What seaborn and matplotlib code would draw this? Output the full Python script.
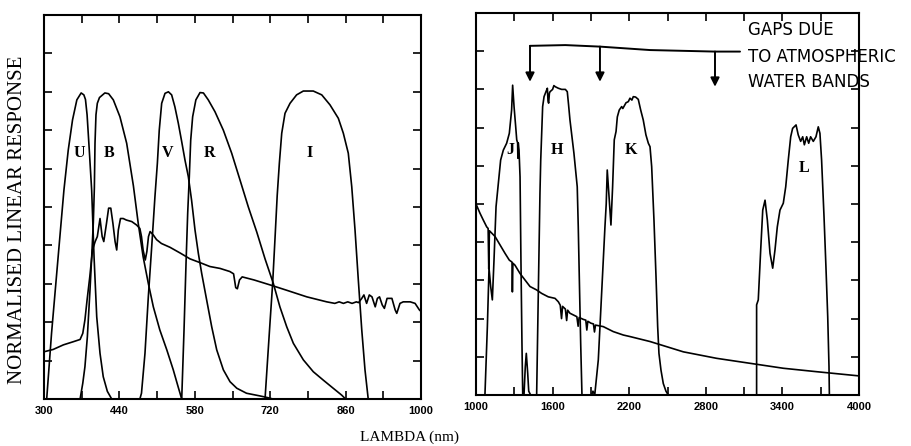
import numpy as np
import pandas as pd
import matplotlib
matplotlib.use("Agg")
import matplotlib.pyplot as plt
import seaborn as sns

# ---------------- data ----------------
# Optical panel: filter responses U, B, V, R, I and a stellar spectrum
u_wl = [305, 314, 322, 330, 337, 345, 353, 361, 369, 374, 377, 380, 384, 388.5, 392.9, 397.9, 404, 410, 417.6, 425.7]
u_resp = [0, 0.171, 0.301, 0.431, 0.544, 0.648, 0.727, 0.779, 0.797, 0.792, 0.78, 0.74, 0.65, 0.544, 0.371, 0.214, 0.119, 0.058, 0.02, 0]

b_wl = [367, 372, 376, 380.5, 385.4, 388.6, 391.6, 393.5, 394.7, 396.5, 399, 403, 413, 420, 428.7, 441, 453.5, 466, 475, 484, 493.7, 503, 515, 528, 540, 549, 555.7]
b_resp = [0, 0.041, 0.084, 0.162, 0.284, 0.371, 0.46, 0.55, 0.666, 0.74, 0.77, 0.785, 0.797, 0.795, 0.779, 0.735, 0.666, 0.555, 0.457, 0.371, 0.301, 0.24, 0.18, 0.128, 0.076, 0.032, 0]

v_wl = [478, 481, 487.5, 493.7, 500, 506, 510.5, 514, 518.5, 524.7, 531, 537, 543, 549.4, 555.7, 561.8, 568, 574, 580.4, 586.6, 592.8, 602, 611.4, 620.7, 633, 645.4, 658, 676, 701, 714, 725]
v_resp = [0, 0.015, 0.119, 0.266, 0.397, 0.527, 0.614, 0.70, 0.77, 0.796, 0.8, 0.792, 0.761, 0.718, 0.67, 0.622, 0.579, 0.518, 0.44, 0.379, 0.327, 0.258, 0.188, 0.128, 0.076, 0.045, 0.028, 0.015, 0.008, 0.004, 0]

r_wl = [555.7, 560, 563.7, 566.8, 569.8, 572.4, 576, 582, 589.7, 596, 605, 617.5, 633, 648.5, 664, 679.4, 695, 710.4, 725.8, 738, 750.7, 763, 781.5, 800, 818.7, 837, 852.8, 860]
r_resp = [0, 0.18, 0.353, 0.484, 0.579, 0.674, 0.735, 0.779, 0.798, 0.797, 0.779, 0.748, 0.70, 0.64, 0.57, 0.50, 0.435, 0.365, 0.301, 0.24, 0.188, 0.145, 0.102, 0.071, 0.049, 0.028, 0.01, 0]

i_wl = [710.4, 714.7, 719.7, 724.5, 729, 733, 737, 741.4, 747.5, 756.8, 769, 781.5, 800, 815.7, 831, 846.5, 855.8, 865, 871.4, 877.5, 883.6, 890, 896, 902]
i_resp = [0, 0.093, 0.2, 0.3, 0.42, 0.53, 0.614, 0.692, 0.744, 0.77, 0.792, 0.802, 0.802, 0.792, 0.766, 0.731, 0.692, 0.64, 0.553, 0.44, 0.31, 0.18, 0.076, 0]

opt_spec_wl = [300, 317, 336, 354, 367, 372, 376, 380, 385, 390, 395, 399, 404, 408, 411, 416, 420, 424, 428, 432, 435, 438, 442, 447, 453, 463, 472, 478, 481, 484, 488, 491, 494, 497, 503, 509, 518, 534, 553, 571, 590, 608, 627, 645, 652, 656, 659, 663, 668, 690, 720, 751, 788, 825, 840, 848, 856, 864, 872, 880, 884, 890, 894, 899, 904, 909, 915, 919, 923, 928, 932, 937, 946, 952, 955, 961, 967, 980, 989, 997, 1000]
opt_spec_resp = [0.123, 0.129, 0.141, 0.149, 0.155, 0.171, 0.206, 0.258, 0.318, 0.388, 0.41, 0.423, 0.47, 0.423, 0.41, 0.457, 0.497, 0.497, 0.457, 0.41, 0.388, 0.44, 0.47, 0.47, 0.466, 0.462, 0.453, 0.444, 0.423, 0.388, 0.362, 0.384, 0.423, 0.436, 0.427, 0.415, 0.405, 0.395, 0.38, 0.365, 0.355, 0.345, 0.34, 0.332, 0.326, 0.29, 0.287, 0.31, 0.318, 0.31, 0.297, 0.283, 0.266, 0.253, 0.249, 0.253, 0.249, 0.253, 0.249, 0.253, 0.251, 0.262, 0.271, 0.249, 0.271, 0.266, 0.24, 0.262, 0.266, 0.245, 0.236, 0.262, 0.262, 0.232, 0.223, 0.249, 0.253, 0.253, 0.249, 0.232, 0.228]

# Infrared panel: J, H, K, L and spectrum
j_wl = [1070, 1089, 1102, 1115, 1128, 1141, 1157, 1175, 1193, 1214, 1240, 1261, 1279, 1287, 1298, 1311, 1319, 1326, 1328, 1331, 1337, 1345, 1352, 1360, 1366, 1376, 1386, 1394, 1405, 1413, 1428]
j_resp = [0, 0.179, 0.332, 0.284, 0.249, 0.353, 0.493, 0.554, 0.615, 0.641, 0.659, 0.685, 0.746, 0.811, 0.755, 0.702, 0.668, 0.66, 0.62, 0.66, 0.641, 0.571, 0.353, 0.135, 0, 0, 0.074, 0.109, 0.057, 0.01, 0]

h_wl = [1475, 1488, 1501, 1507, 1522, 1533, 1548, 1559, 1564, 1569, 1575, 1580, 1600, 1610, 1621, 1645, 1671, 1700, 1715, 1725, 1736, 1767, 1793, 1801, 1809, 1820, 1830]
h_resp = [0, 0.266, 0.528, 0.615, 0.755, 0.781, 0.794, 0.803, 0.77, 0.764, 0.79, 0.794, 0.8, 0.81, 0.807, 0.803, 0.8, 0.8, 0.794, 0.76, 0.72, 0.633, 0.545, 0.44, 0.31, 0.135, 0]

k_wl = [1905, 1916, 1930, 1958, 1984, 2010, 2020, 2028, 2044, 2057, 2070, 2083, 2097, 2107, 2122, 2141, 2150, 2175, 2193, 2206, 2221, 2232, 2250, 2271, 2290, 2310, 2331, 2350, 2363, 2376, 2394, 2410, 2423, 2433, 2449, 2467, 2488, 2506]
k_resp = [0, 0.01, 0, 0.092, 0.266, 0.44, 0.5, 0.589, 0.51, 0.445, 0.545, 0.668, 0.69, 0.728, 0.746, 0.755, 0.75, 0.765, 0.768, 0.777, 0.772, 0.781, 0.78, 0.774, 0.746, 0.72, 0.681, 0.659, 0.65, 0.598, 0.458, 0.31, 0.179, 0.109, 0.065, 0.03, 0.01, 0]

l_wl = [3198, 3198, 3211, 3230, 3246, 3264, 3282, 3303, 3324, 3342, 3360, 3381, 3407, 3426, 3446, 3465, 3480, 3507, 3524, 3543, 3559, 3572, 3590, 3606, 3621, 3642, 3663, 3681, 3694, 3707, 3726, 3741, 3755, 3765, 3768]
l_resp = [0, 0.236, 0.249, 0.38, 0.484, 0.51, 0.458, 0.371, 0.332, 0.38, 0.44, 0.484, 0.502, 0.545, 0.615, 0.676, 0.698, 0.707, 0.681, 0.664, 0.676, 0.655, 0.676, 0.659, 0.676, 0.664, 0.676, 0.702, 0.685, 0.615, 0.467, 0.336, 0.205, 0.074, 0]

ir_spec_wl = [1000, 1031, 1057, 1084, 1095, 1100, 1105, 1149, 1188, 1227, 1261, 1282, 1285, 1289, 1305, 1345, 1384, 1423, 1475, 1514, 1566, 1619, 1645, 1660, 1670, 1678, 1700, 1710, 1718, 1736, 1760, 1790, 1800, 1808, 1840, 1860, 1868, 1876, 1900, 1920, 1928, 1936, 1997, 2075, 2154, 2206, 2363, 2624, 2885, 3146, 3407, 3668, 4000]
ir_spec_resp = [0.5, 0.476, 0.458, 0.44, 0.436, 0.33, 0.43, 0.415, 0.393, 0.371, 0.353, 0.348, 0.27, 0.345, 0.34, 0.318, 0.301, 0.284, 0.275, 0.266, 0.257, 0.253, 0.244, 0.235, 0.2, 0.232, 0.225, 0.195, 0.222, 0.214, 0.21, 0.205, 0.18, 0.203, 0.198, 0.196, 0.17, 0.193, 0.188, 0.186, 0.165, 0.183, 0.179, 0.166, 0.157, 0.153, 0.14, 0.113, 0.096, 0.083, 0.07, 0.061, 0.05]

opt_labels = ["U", "B", "V", "R", "I"]
ir_labels = ["J", "H", "K", "L"]

# ---------------- build tables ----------------
def frame(name, wl, resp):
    return pd.DataFrame({"wl": wl, "resp": resp, "band": name})

opt_df = pd.concat([frame("U", u_wl, u_resp), frame("B", b_wl, b_resp),
                    frame("V", v_wl, v_resp), frame("R", r_wl, r_resp),
                    frame("I", i_wl, i_resp),
                    frame("spec", opt_spec_wl, opt_spec_resp)], ignore_index=True)
ir_df = pd.concat([frame("J", j_wl, j_resp), frame("H", h_wl, h_resp),
                   frame("K", k_wl, k_resp), frame("L", l_wl, l_resp),
                   frame("spec", ir_spec_wl, ir_spec_resp)], ignore_index=True)

# ---------------- style ----------------
sns.set_style("ticks")
plt.rcParams["font.family"] = ["Liberation Serif", "DejaVu Serif"]
plt.rcParams["text.color"] = "black"
plt.rcParams["xtick.color"] = "black"
plt.rcParams["ytick.color"] = "black"
plt.rcParams["xtick.labelcolor"] = "black"

fig = plt.figure(figsize=(9.11, 4.46), dpi=100)
ax1 = fig.add_axes([44 / 911, 47 / 446, 377 / 911, 384 / 446])
ax2 = fig.add_axes([476 / 911, 51 / 446, 383 / 911, 382 / 446])

for ax, df in ((ax1, opt_df), (ax2, ir_df)):
    sns.lineplot(data=df, x="wl", y="resp", units="band", estimator=None,
                 sort=False, color="black", linewidth=1.2, ax=ax, legend=False)

ax1.set_xlim(300, 1000)
ax2.set_xlim(1000, 4000)
for ax in (ax1, ax2):
    ax.set_ylim(0, 1)
    ax.set_xlabel("")
    ax.set_ylabel("")
    ax.set_yticks(np.arange(0.1, 0.95, 0.1))
    ax.tick_params(axis="both", which="both", direction="in", length=6, width=1.2,
                   top=True, right=True, left=True, bottom=True,
                   labelleft=False, pad=5, color="black", labelcolor="black")
    for s in ax.spines.values():
        s.set_linewidth(1.5)
        s.set_color("black")

ax1.set_xticks(np.arange(300, 1001, 140))
ax1.set_xticks(np.arange(370, 1000, 140), minor=True)
ax2.set_xticks(np.arange(1000, 4001, 600))
ax2.set_xticks(np.arange(1300, 4000, 600), minor=True)
for ax in (ax1, ax2):
    for lab in ax.get_xticklabels():
        lab.set_fontfamily("Liberation Sans")
        lab.set_fontweight("bold")
        lab.set_fontsize(8)

# band letters
letter_kw = dict(ha="center", va="center", fontsize=11.5, fontweight="bold",
                 family="Liberation Serif", color="black")
for name, xpos in zip(opt_labels, [365, 421, 530, 608, 793]):
    ax1.text(xpos, 0.641, name, **letter_kw)
for name, xpos, ypos in zip(ir_labels, [1266, 1637, 2214, 3569], [0.641, 0.641, 0.641, 0.593]):
    ax2.text(xpos, ypos, name, **letter_kw)

# axis titles
fig.text(18 / 911, 1 - 220 / 446, "NORMALISED LINEAR RESPONSE", rotation=90,
         ha="center", va="center", fontsize=15, family="Liberation Serif", color="black")
fig.text(410 / 911, 1 - 437 / 446, "LAMBDA (nm)", ha="center", va="center",
         fontsize=11, family="Liberation Serif", color="black")

# hand-drawn annotation of water bands
ax2.plot([1423, 1700, 1971, 2363, 2872, 3068], [0.914, 0.916, 0.912, 0.903, 0.899, 0.899],
         color="black", lw=1.4, clip_on=False)
for xa, ytop, ytip in ((1423, 0.914, 0.82), (1971, 0.912, 0.82), (2872, 0.899, 0.807)):
    ax2.annotate("", xy=(xa, ytip), xytext=(xa, ytop),
                 arrowprops=dict(arrowstyle="-|>", color="black", lw=1.4,
                                 mutation_scale=13, shrinkA=0, shrinkB=0))
hand_kw = dict(ha="left", va="center", fontsize=12, family="DejaVu Sans",
               clip_on=False, color="black")
ax2.text(3130, 0.955, "GAPS DUE", **hand_kw)
ax2.text(3130, 0.885, "TO ATMOSPHERIC", **hand_kw)
ax2.text(3130, 0.819, "WATER BANDS", **hand_kw)

fig.savefig("out.png", dpi=100)
